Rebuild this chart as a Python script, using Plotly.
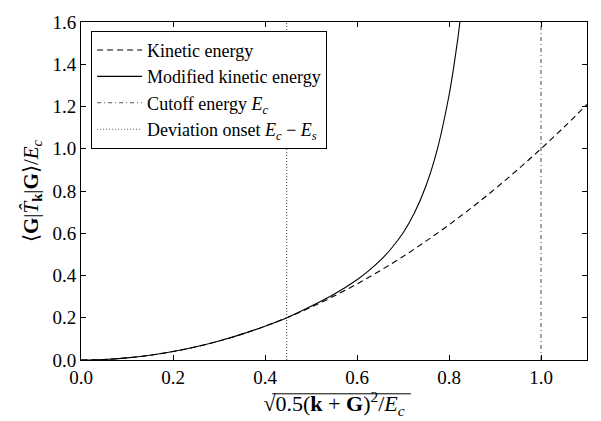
import plotly.graph_objects as go

# Kinetic energy (dashed)
ke_x = [0.0, 0.05, 0.1, 0.15, 0.2, 0.25, 0.3, 0.35, 0.4, 0.45, 0.5, 0.55, 0.6, 0.65,
        0.7, 0.75, 0.8, 0.85, 0.9, 0.95, 1.0, 1.05, 1.1]
ke_y = [0.0, 0.0025, 0.01, 0.0225, 0.04, 0.0625, 0.09, 0.1225, 0.16, 0.2025, 0.25, 0.3025,
        0.36, 0.4225, 0.49, 0.5625, 0.64, 0.7225, 0.81, 0.9025, 1.0, 1.1025, 1.21]

# Modified kinetic energy (solid)
mke_x = [0.0, 0.05, 0.1, 0.15, 0.2, 0.25, 0.3, 0.35, 0.4, 0.45, 0.5, 0.55, 0.6, 0.625,
         0.65, 0.675, 0.7, 0.725, 0.75, 0.775, 0.8, 0.81, 0.82, 0.83]
mke_y = [0.0, 0.0025, 0.01, 0.0225, 0.04, 0.0625, 0.09, 0.1225, 0.16, 0.2025, 0.254, 0.311,
         0.380, 0.422, 0.470, 0.529, 0.601, 0.697, 0.825, 1.001, 1.252, 1.383, 1.535, 1.71]

cutoff_x = 1.0
onset_x = 0.447

x_ticks = [0.0, 0.2, 0.4, 0.6, 0.8, 1.0]
y_ticks = [0.0, 0.2, 0.4, 0.6, 0.8, 1.0, 1.2, 1.4, 1.6]

FONT = "Liberation Serif"

fig = go.Figure()
fig.add_trace(go.Scatter(x=ke_x, y=ke_y, mode="lines", name="Kinetic energy",
                         line=dict(color="black", width=1.1, dash="6px,4px", shape="spline")))
fig.add_trace(go.Scatter(x=mke_x, y=mke_y, mode="lines", name="Modified kinetic energy",
                         line=dict(color="black", width=1.1, shape="spline", smoothing=0.6)))
fig.add_trace(go.Scatter(x=[cutoff_x, cutoff_x], y=[0, 1.6], mode="lines",
                         name="Cutoff energy <i>E<sub>c</sub></i>",
                         line=dict(color="#555555", width=1.1, dash="4px,3px,1px,3px")))
fig.add_trace(go.Scatter(x=[onset_x, onset_x], y=[0, 1.6], mode="lines",
                         name="Deviation onset <i>E<sub>c</sub></i> − <i>E<sub>s</sub></i>",
                         line=dict(color="#555555", width=1.1, dash="1px,2px")))

axis_common = dict(showline=True, linecolor="black", linewidth=1, mirror="ticks",
                   ticks="inside", ticklen=5, tickcolor="black", showgrid=False,
                   zeroline=False, tickfont=dict(family=FONT, size=19, color="black"))

fig.update_xaxes(range=[0, 1.1], tickvals=x_ticks, tickformat=".1f",
                 title=dict(text="√0.5(<b>k</b> + <b>G</b>)<sup>2</sup>/<i>E<sub>c</sub></i>",
                            font=dict(family=FONT, size=22, color="black"), standoff=0),
                 **axis_common)
fig.update_yaxes(range=[0, 1.6], tickvals=y_ticks, tickformat=".1f",
                 title=dict(text="⟨<b>G</b>|<i>T̂</i><sub><b>k</b></sub>|<b>G</b>⟩/<i>E<sub>c</sub></i>",
                            font=dict(family=FONT, size=21, color="black"), standoff=8),
                 **axis_common)

# overline of the square-root sign in the x-axis title (decoration)
fig.add_shape(type="line", xref="paper", yref="paper", x0=0.378, x1=0.652, y0=-0.1, y1=-0.1,
              line=dict(color="black", width=1))

fig.update_layout(
    width=601, height=421,
    margin=dict(l=81, r=14, t=12, b=61),
    paper_bgcolor="white", plot_bgcolor="white",
    font=dict(family=FONT, color="black"),
    showlegend=True,
    legend=dict(x=0.02, y=0.974, xanchor="left", yanchor="top",
                bordercolor="black", borderwidth=1, bgcolor="white",
                font=dict(family=FONT, size=18, color="black"),
                itemwidth=45, tracegroupgap=0),
)

fig.write_html("out.html")
